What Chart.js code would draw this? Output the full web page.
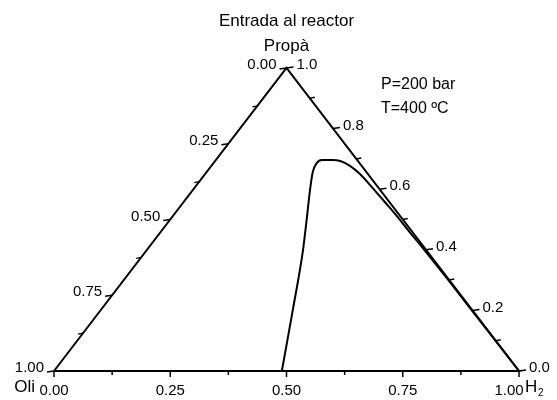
<!DOCTYPE html>
<html>
<head>
<meta charset="utf-8">
<script src="https://cdn.jsdelivr.net/npm/chart.js@4.4.0/dist/chart.umd.min.js"></script>
<style>
  html, body { margin: 0; padding: 0; background: #fff; }
  #wrap { width: 557px; height: 400px; }
</style>
</head>
<body>
<div id="wrap"><canvas id="ternaryChart"></canvas></div>
<script>
// composition of the curve: H2 fraction and Propà fraction (Oli = rest)
const curveH2 =    [0.49, 0.413, 0.336, 0.290, 0.252, 0.228, 0.222, 0.228, 0.250, 0.269, 0.298, 0.333, 0.380, 0.429, 0.481, 0.532, 0.587, 0.700, 0.850, 1.00];
const curvePropa = [0.00, 0.201, 0.399, 0.508, 0.597, 0.657, 0.686, 0.696, 0.696, 0.693, 0.677, 0.650, 0.607, 0.561, 0.512, 0.462, 0.409, 0.298, 0.149, 0.00];

// triangle vertices: Oli, Propà (top), H2
const vertexH2 =    [0, 0, 1, 0];
const vertexPropa = [0, 1, 0, 0];

const bottomTicks = [0, 0.25, 0.5, 0.75, 1];
const bottomLabels = ["0.00", "0.25", "0.50", "0.75", "1.00"];
const bottomMinor = [0.125, 0.375, 0.625, 0.875];

const leftTicks = [0, 0.25, 0.5, 0.75, 1];
const leftLabels = ["0.00", "0.25", "0.50", "0.75", "1.00"];
const leftMinor = [0.125, 0.375, 0.625, 0.875];

const rightTicks = [0, 0.2, 0.4, 0.6, 0.8, 1.0];
const rightLabels = ["0.0", "0.2", "0.4", "0.6", "0.8", "1.0"];
const rightMinor = [0.1, 0.3, 0.5, 0.7, 0.9];

const FONT = '"Liberation Sans", Arial, sans-serif';

function toXY(h2, propa) {
    return h2.map((b, i) => ({ x: b + propa[i] / 2, y: propa[i] }));
}

const ternaryDecor = {
    id: "ternaryDecor",
    afterDatasetsDraw(chart) {
        const { ctx, scales: { x, y } } = chart;
        const pt = (b, c) => [x.getPixelForValue(b + c / 2), y.getPixelForValue(c)];

        ctx.save();
        ctx.strokeStyle = "#000";
        ctx.fillStyle = "#000";
        ctx.lineWidth = 1.5;

        const tick = (p, dx, dy) => {
            ctx.beginPath();
            ctx.moveTo(p[0], p[1]);
            ctx.lineTo(p[0] + dx, p[1] + dy);
            ctx.stroke();
        };

        // bottom axis (H2)
        bottomTicks.forEach(t => tick(pt(t, 0), 0, 6));
        bottomMinor.forEach(t => tick(pt(t, 0), 0, 4));
        // left axis (Oli)
        leftTicks.forEach(a => tick(pt(0, 1 - a), -7, 1));
        leftMinor.forEach(a => tick(pt(0, 1 - a), -5, 1));
        // right axis (Propà)
        rightTicks.forEach(c => tick(pt(1 - c, c), 7, -1));
        rightMinor.forEach(c => tick(pt(1 - c, c), 5, -1));

        ctx.font = "15px " + FONT;
        ctx.textBaseline = "middle";

        ctx.textAlign = "center";
        bottomTicks.forEach((t, i) => {
            const p = pt(t, 0);
            const shift = t === 1 ? -10 : 0;
            ctx.fillText(bottomLabels[i], p[0] + shift, p[1] + 20);
        });

        ctx.textAlign = "right";
        leftTicks.forEach((a, i) => {
            const p = pt(0, 1 - a);
            ctx.fillText(leftLabels[i], p[0] - 10, p[1] - 3);
        });

        ctx.textAlign = "left";
        rightTicks.forEach((c, i) => {
            const p = pt(1 - c, c);
            ctx.fillText(rightLabels[i], p[0] + 10, p[1] - 3);
        });

        // component names
        ctx.font = "17px " + FONT;
        const top = pt(0, 1);
        const bl = pt(0, 0);
        const br = pt(1, 0);
        ctx.textAlign = "center";
        ctx.fillText("Entrada al reactor", top[0], 21);
        ctx.fillText("Propà", top[0], 46);
        ctx.textAlign = "right";
        ctx.fillText("Oli", bl[0] - 19, bl[1] + 16);
        ctx.textAlign = "left";
        ctx.fillText("H", br[0] + 6, br[1] + 16);
        ctx.font = "10px " + FONT;
        ctx.fillText("2", br[0] + 19, br[1] + 22);

        // conditions
        ctx.font = "16px " + FONT;
        ctx.fillText("P=200 bar", 381, 85);
        ctx.fillText("T=400 ºC", 381, 109);

        ctx.restore();
    }
};

function createTernaryChart() {
    const ctx = document.getElementById("ternaryChart");

    new Chart(ctx, {
        type: "scatter",
        data: {
            datasets: [
                {
                    label: "frame",
                    data: toXY(vertexH2, vertexPropa),
                    showLine: true,
                    borderColor: "#000",
                    borderWidth: 2,
                    pointRadius: 0,
                    tension: 0
                },
                {
                    label: "curve",
                    data: toXY(curveH2, curvePropa),
                    showLine: true,
                    borderColor: "#000",
                    borderWidth: 2,
                    pointRadius: 0,
                    cubicInterpolationMode: "monotone"
                }
            ]
        },
        options: {
            responsive: true,
            maintainAspectRatio: false,
            animation: false,
            clip: false,
            layout: {
                padding: { left: 54, right: 38, top: 68, bottom: 29 }
            },
            plugins: {
                legend: { display: false },
                title: { display: false },
                tooltip: { enabled: false }
            },
            scales: {
                x: { type: "linear", min: 0, max: 1, display: false },
                y: { type: "linear", min: 0, max: 1, display: false }
            }
        },
        plugins: [ternaryDecor]
    });
}

document.addEventListener("DOMContentLoaded", createTernaryChart);
</script>
</body>
</html>
